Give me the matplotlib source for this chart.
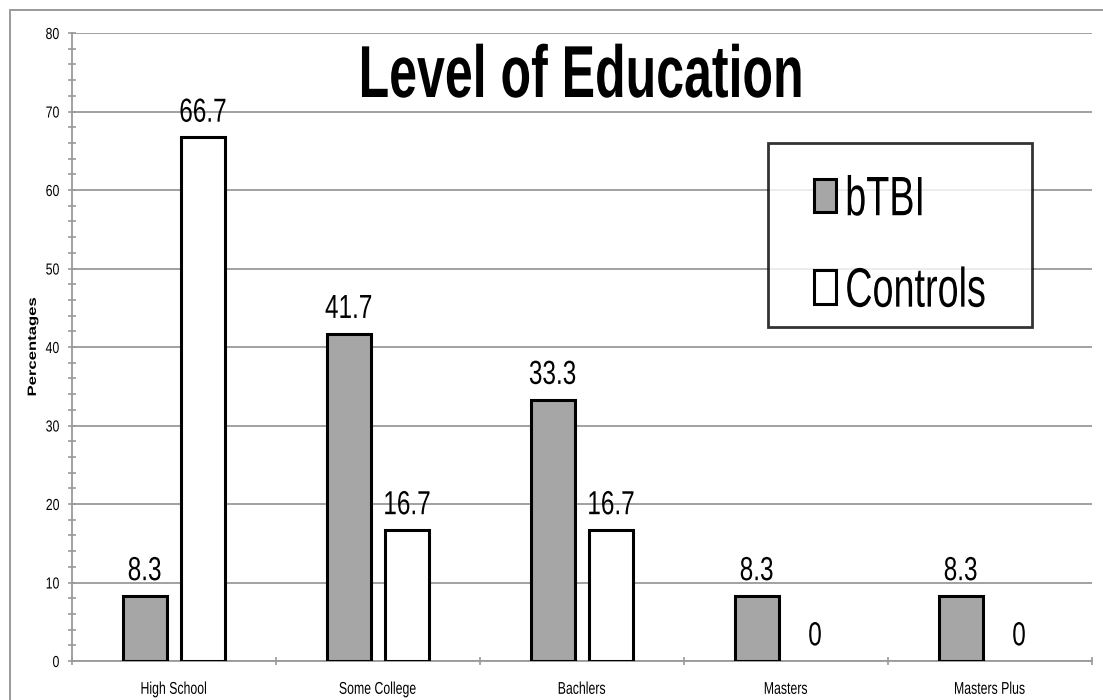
import matplotlib
matplotlib.use("Agg")
import matplotlib.pyplot as plt
import numpy as np
from matplotlib.patches import Rectangle
from matplotlib.path import Path
from matplotlib.legend_handler import HandlerPatch
from matplotlib.patheffects import AbstractPathEffect
from matplotlib.transforms import Affine2D

categories = ["High School", "Some College", "Bachlers", "Masters", "Masters Plus"]
btbi = [8.3, 41.7, 33.3, 8.3, 8.3]
controls = [66.7, 16.7, 16.7, 0, 0]
btbi_labels = ["8.3", "41.7", "33.3", "8.3", "8.3"]
control_labels = ["66.7", "16.7", "16.7", "0", "0"]
series_names = ["bTBI", "Controls"]

plt.rcParams['font.family'] = ["Liberation Sans", "DejaVu Sans"]


class HScale(AbstractPathEffect):
    """Draw text horizontally condensed (narrow face look), keeping it a Text artist."""

    def __init__(self, sx, anchor="center"):
        super().__init__()
        self.sx = sx
        self.anchor = anchor

    def draw_path(self, renderer, gc, tpath, affine, rgbFace=None):
        v = affine.transform(tpath.vertices)
        if len(v) == 0:
            return
        if self.anchor == "left":
            cx = v[:, 0].min()
        elif self.anchor == "right":
            cx = v[:, 0].max()
        else:
            cx = 0.5 * (v[:, 0].min() + v[:, 0].max())
        t = affine + Affine2D().translate(-cx, 0).scale(self.sx, 1).translate(cx, 0)
        renderer.draw_path(gc, tpath, t, rgbFace)


W, H = 1103, 700
fig = plt.figure(figsize=(W / 100, H / 100), dpi=100)
fig.patches.append(Rectangle((10 / W, -0.1), 1.2, (H - 10) / H + 0.1, transform=fig.transFigure,
                             fill=False, edgecolor="#9a9a9a", linewidth=1.4))
ax = fig.add_axes([72 / W, 1 - 661 / H, 1020 / W, 628 / H])

x = np.arange(len(categories))
w = 0.213
off = 0.143
b1 = ax.bar(x - off, btbi, w, color="#a6a6a6", edgecolor="black", linewidth=2.2, label=series_names[0], zorder=3)
b2 = ax.bar(x + off, controls, w, color="white", edgecolor="black", linewidth=2.2, label=series_names[1], zorder=3)
for rect, v in zip(list(b1) + list(b2), btbi + controls):
    if v == 0:
        rect.set_linewidth(0)

LABEL_FX = [HScale(0.73)]
for i in range(len(categories)):
    ax.text(x[i] - off, btbi[i] + 2.0, btbi_labels[i], ha="center", va="baseline", fontsize=24,
            zorder=4, path_effects=LABEL_FX)
    ax.text(x[i] + off, controls[i] + 2.0, control_labels[i], ha="center", va="baseline", fontsize=24,
            zorder=4, path_effects=LABEL_FX)

ax.set_xlim(-0.5, len(categories) - 0.5)
ax.set_ylim(0, 80)
ax.set_yticks(np.arange(0, 81, 10))
ax.set_yticks(np.arange(0, 81, 2), minor=True)
ax.set_xticks(x)
ax.set_xticklabels(categories, fontsize=12.3)
ax.set_xticks(np.arange(-0.5, len(categories), 0.5), minor=True)
ax.tick_params(axis="x", which="major", length=0, pad=15)
ax.tick_params(axis="x", which="minor", length=6, width=1.2, color="#9a9a9a", direction="inout")
ax.tick_params(axis="y", which="major", length=6, width=1.2, color="#9a9a9a", direction="inout", labelsize=11.5, pad=6)
ax.tick_params(axis="y", which="minor", length=6, width=1.2, color="#9a9a9a", direction="inout")
for t in ax.get_xticklabels():
    t.set_path_effects([HScale(0.72)])
for t in ax.get_yticklabels():
    t.set_path_effects([HScale(0.77, "right")])
ax.yaxis.grid(True, color="#9a9a9a", linewidth=1.3, zorder=0)
ax.set_axisbelow(True)
for s in ["top", "right"]:
    ax.spines[s].set_visible(False)
for s in ["left", "bottom"]:
    ax.spines[s].set_color("#9a9a9a")
    ax.spines[s].set_linewidth(1.3)

ax.set_ylabel("Percentages", fontsize=12, fontweight="bold", path_effects=[HScale(0.72)])
ax.yaxis.set_label_coords((32.5 - 72) / 1020, 0.5)
ax.yaxis.label.set_va("center")

ax.text(0.5, (661 - 97) / 628, "Level of Education", transform=ax.transAxes,
        ha="center", va="baseline", fontsize=53, fontweight="bold", zorder=5,
        path_effects=[HScale(0.68)])


def handle_patch(legend, orig_handle, xdescent, ydescent, width, height, fontsize):
    return Rectangle((-xdescent, -ydescent + 0.26 * fontsize), width, height)


class SmallBox(HandlerPatch):
    def __init__(self):
        super().__init__(patch_func=handle_patch)

    def update_prop(self, legend_handle, orig_handle, legend):
        super().update_prop(legend_handle, orig_handle, legend)
        legend_handle.set_linewidth(1.4)
        legend_handle.set_edgecolor("black")


LFS = 40
LSX = 0.68
EXTRA = 0.43
TOP_EXT = 10
BOT_SHRINK = 14
lpx = LFS * 100 / 72
leg = ax.legend(handles=[b1, b2], loc="upper left",
                bbox_to_anchor=((768 + EXTRA * lpx - 72) / 1020, 1 - (143 + TOP_EXT - 33) / 628),
                fontsize=LFS, frameon=True, fancybox=False, borderpad=0.4, labelspacing=0.71,
                handlelength=0.4, handleheight=0.54, handletextpad=0.16, borderaxespad=0,
                handler_map={type(b1[0]): SmallBox()})
for t in leg.get_texts():
    t.set_path_effects([HScale(LSX, "left")])
leg.set_zorder(6)

renderer = fig.canvas.get_renderer()
maxw = max(t.get_window_extent(renderer).width for t in leg.get_texts())


def legend_box(x0, y0, width, height, mutation_size):
    ex = EXTRA * mutation_size
    right = x0 + width - (1 - LSX) * maxw + ex
    bottom = y0 + BOT_SHRINK
    top = y0 + height + TOP_EXT
    return Path([(x0 - ex, bottom), (right, bottom), (right, top),
                 (x0 - ex, top), (x0 - ex, bottom)], closed=True)


frame = leg.get_frame()
frame.set_boxstyle(legend_box)
frame.set_edgecolor("black")
frame.set_linewidth(2)

fig.savefig("out.png", dpi=100)
